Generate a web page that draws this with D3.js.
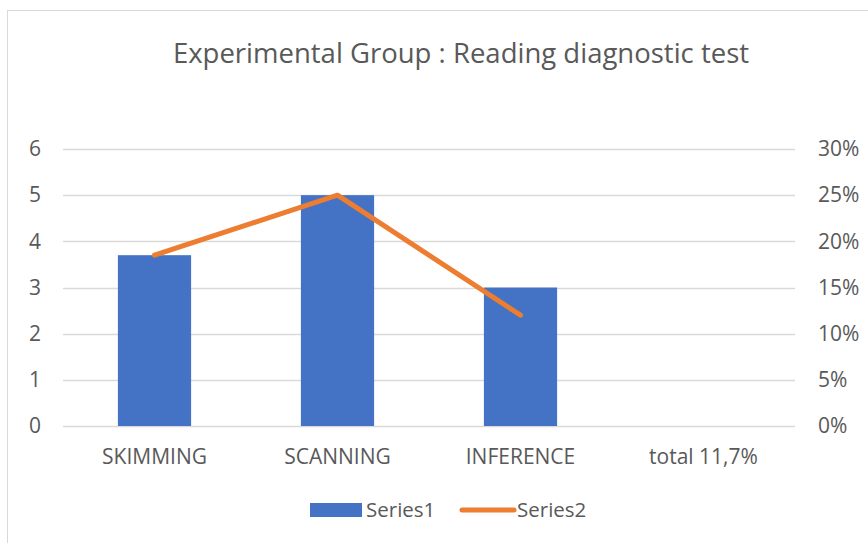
<!DOCTYPE html>
<html>
<head>
<meta charset="utf-8">
<script src="https://cdn.jsdelivr.net/npm/d3@7"></script>
<style>
	body { margin: 0; background: #fff; }
	text { font-family: "Open Sans", "Noto Sans", sans-serif; fill: #595959; }
</style>
</head>
<body>
<div id="chart"></div>
<script>
const categories = ["SKIMMING", "SCANNING", "INFERENCE", "total 11,7%"];
const series1 = [3.7, 5, 3, null];
const series2 = [0.185, 0.25, 0.12, null];
const leftTicks = [0, 1, 2, 3, 4, 5, 6];
const rightTicks = [0, 0.05, 0.1, 0.15, 0.2, 0.25, 0.3];

const width = 868;
const height = 543;
const margin = { top: 149, right: 73, bottom: 117, left: 63 };

const svg = d3
	.select("#chart")
	.append("svg")
	.attr("width", width)
	.attr("height", height);

// chart border
svg
	.append("rect")
	.attr("x", 7.5)
	.attr("y", 10.5)
	.attr("width", 900)
	.attr("height", 600)
	.attr("fill", "#fff")
	.attr("stroke", "#d9d9d9");

const x = d3
	.scaleBand()
	.domain(categories)
	.range([margin.left, width - margin.right])
	.paddingInner(0.6)
	.paddingOuter(0.3);

const y = d3
	.scaleLinear()
	.domain([0, 6])
	.range([height - margin.bottom, margin.top]);

const y2 = d3
	.scaleLinear()
	.domain([0, 0.3])
	.range([height - margin.bottom, margin.top]);

// gridlines
svg
	.append("g")
	.selectAll("line")
	.data(leftTicks)
	.join("line")
	.attr("x1", margin.left)
	.attr("x2", width - margin.right)
	.attr("y1", (d) => Math.round(y(d)) + 0.5)
	.attr("y2", (d) => Math.round(y(d)) + 0.5)
	.attr("stroke", "#d9d9d9")
	.attr("stroke-width", 1.5);

// left axis labels
const leftAxis = svg
	.append("g")
	.attr("transform", `translate(${margin.left - 22}, 0)`)
	.call(d3.axisLeft(y).tickValues(leftTicks).tickSize(0).tickPadding(0).tickFormat(d3.format("d")));
leftAxis.select(".domain").remove();
leftAxis.selectAll("text").attr("font-size", 21).style("font-family", null);

// right axis labels
const rightAxis = svg
	.append("g")
	.attr("transform", `translate(${width - margin.right + 23}, 0)`)
	.call(
		d3.axisRight(y2).tickValues(rightTicks).tickSize(0).tickPadding(0).tickFormat(d3.format(".0%"))
	);
rightAxis.select(".domain").remove();
rightAxis.selectAll("text").attr("font-size", 21).style("font-family", null);

// bars
svg
	.append("g")
	.selectAll("rect")
	.data(categories.map((c, i) => ({ c, v: series1[i] })).filter((d) => d.v != null))
	.join("rect")
	.attr("x", (d) => x(d.c))
	.attr("y", (d) => y(d.v))
	.attr("width", x.bandwidth())
	.attr("height", (d) => y(0) - y(d.v))
	.attr("fill", "#4472c4");

// line
const linePts = categories
	.map((c, i) => ({ c, v: series2[i] }))
	.filter((d) => d.v != null);
svg
	.append("path")
	.datum(linePts)
	.attr("fill", "none")
	.attr("stroke", "#ed7d31")
	.attr("stroke-width", 5)
	.attr("stroke-linecap", "round")
	.attr("stroke-linejoin", "round")
	.attr(
		"d",
		d3
			.line()
			.x((d) => x(d.c) + x.bandwidth() / 2)
			.y((d) => y2(d.v))
	);

// category labels
const xAxis = svg
	.append("g")
	.attr("transform", `translate(0, ${height - margin.bottom})`)
	.call(d3.axisBottom(x).tickSize(0).tickPadding(23));
xAxis.select(".domain").remove();
xAxis.selectAll("text").attr("font-size", 21).style("font-family", null);

// title
svg
	.append("text")
	.attr("x", 461)
	.attr("y", 63)
	.attr("text-anchor", "middle")
	.attr("font-size", 27.5)
	.text("Experimental Group : Reading diagnostic test");

// legend
const legend = svg.append("g").attr("transform", "translate(0, 510)");
legend
	.append("rect")
	.attr("x", 310)
	.attr("y", -7)
	.attr("width", 52)
	.attr("height", 14)
	.attr("fill", "#4472c4");
legend
	.append("text")
	.attr("x", 366)
	.attr("y", 7)
	.attr("font-size", 20.5)
	.text("Series1");
legend
	.append("line")
	.attr("x1", 462)
	.attr("x2", 514)
	.attr("y1", 0)
	.attr("y2", 0)
	.attr("stroke", "#ed7d31")
	.attr("stroke-width", 5)
	.attr("stroke-linecap", "round");
legend
	.append("text")
	.attr("x", 517)
	.attr("y", 7)
	.attr("font-size", 20.5)
	.text("Series2");
</script>
</body>
</html>
